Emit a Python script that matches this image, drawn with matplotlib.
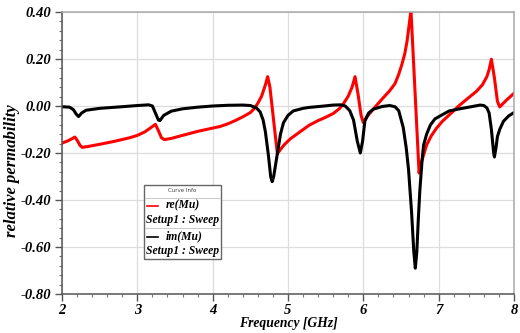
#—————————————————————————头文件——————————————————————————#

import matplotlib
matplotlib.use("Agg")
import matplotlib.pyplot as plt
from matplotlib.lines import Line2D
from matplotlib.patches import Rectangle
from matplotlib.ticker import MultipleLocator

#——————————————————————————数据———————————————————————————#

# re(Mu)
freq_re = [2.00, 2.08, 2.14, 2.17, 2.20, 2.24, 2.27, 2.35, 2.50, 2.70, 2.90, 3.00,
           3.10, 3.18, 3.24, 3.28, 3.32, 3.36, 3.45, 3.60, 3.80, 4.00, 4.10, 4.20,
           4.30, 4.40, 4.50, 4.55, 4.60, 4.65, 4.70, 4.73, 4.76, 4.80, 4.84, 4.86,
           4.90, 4.95, 5.03, 5.15, 5.28, 5.40, 5.50, 5.60, 5.68, 5.73, 5.80, 5.85, 5.89,
           5.93, 5.97, 6.00, 6.05, 6.13, 6.25, 6.35, 6.42, 6.47, 6.51, 6.55, 6.58, 6.61,
           6.63, 6.635, 6.74, 6.77, 6.84, 6.90, 6.97, 7.05, 7.14, 7.28, 7.40, 7.50, 7.58,
           7.64, 7.67, 7.70, 7.74, 7.78, 7.81, 7.90, 8.00]
re_mu = [-0.158, -0.148, -0.138, -0.132, -0.145, -0.168, -0.176, -0.172, -0.163, -0.150, -0.135, -0.125,
         -0.110, -0.092, -0.078, -0.105, -0.135, -0.143, -0.138, -0.125, -0.108, -0.094, -0.087, -0.076,
         -0.062, -0.046, -0.028, -0.012, 0.012, 0.042, 0.090, 0.125, 0.080, -0.035, -0.150, -0.203,
         -0.185, -0.165, -0.140, -0.112, -0.082, -0.062, -0.048, -0.032, -0.012, 0.007, 0.042, 0.080, 0.125,
         0.050, -0.040, -0.071, -0.045, -0.014, 0.030, 0.065, 0.095, 0.135, 0.175, 0.222, 0.275, 0.350,
         0.400, 0.390, -0.285, -0.240, -0.166, -0.128, -0.095, -0.065, -0.038, 0.004, 0.036, 0.062, 0.090,
         0.125, 0.155, 0.199, 0.120, 0.020, -0.004, 0.025, 0.054]

# im(Mu)
freq_im = [2.00, 2.10, 2.15, 2.19, 2.22, 2.26, 2.32, 2.50, 2.80, 3.00, 3.15, 3.20,
           3.24, 3.28, 3.30, 3.35, 3.45, 3.60, 3.80, 4.00, 4.20, 4.40, 4.50, 4.58,
           4.63, 4.67, 4.70, 4.74, 4.77, 4.79, 4.81, 4.84, 4.87, 4.90, 4.94, 5.00,
           5.07, 5.20, 5.28, 5.45, 5.60, 5.70, 5.76, 5.82, 5.87, 5.92, 5.96, 5.99,
           6.02, 6.07, 6.13, 6.25, 6.35, 6.42, 6.47, 6.53, 6.57, 6.60, 6.64, 6.67,
           6.69, 6.71, 6.73, 6.75, 6.78, 6.80, 6.84, 6.89, 6.95, 7.06, 7.14, 7.28,
           7.45, 7.55, 7.60, 7.64, 7.67, 7.70, 7.73, 7.74, 7.76, 7.78, 7.81, 7.86,
           7.93, 8.00]
im_mu = [-0.003, -0.005, -0.015, -0.035, -0.045, -0.030, -0.018, -0.010, -0.003, 0.002, 0.005, 0.000,
         -0.030, -0.060, -0.062, -0.040, -0.022, -0.012, -0.005, 0.000, 0.003, 0.004, 0.002, -0.008,
         -0.025, -0.060, -0.110, -0.210, -0.300, -0.322, -0.300, -0.240, -0.180, -0.120, -0.071, -0.040,
         -0.021, -0.010, -0.006, -0.001, 0.004, 0.005, 0.000, -0.020, -0.060, -0.150, -0.200, -0.150,
         -0.064, -0.030, -0.014, -0.002, 0.002, -0.003, -0.020, -0.092, -0.180, -0.270, -0.450, -0.620,
         -0.690, -0.620, -0.480, -0.360, -0.230, -0.166, -0.120, -0.081, -0.055, -0.035, -0.021, -0.012,
         -0.002, 0.004, 0.002, -0.008, -0.030, -0.100, -0.200, -0.217, -0.180, -0.130, -0.100, -0.065,
         -0.042, -0.028]

x_ticks = [2, 3, 4, 5, 6, 7, 8]
y_ticks = [0.40, 0.20, 0.00, -0.20, -0.40, -0.60, -0.80]

#——————————————————————————绘图———————————————————————————#

W, H = 520, 333
fig = plt.figure(figsize=(W / 100, H / 100), dpi=100)
ax = fig.add_axes([62 / W, 1 - 294 / H, 452 / W, 282 / H])

ax.plot(freq_re, re_mu, color='#ff0000', lw=2.2, solid_joinstyle='round')
ax.plot(freq_im, im_mu, color='black', lw=2.2, solid_joinstyle='round')

ax.set_xlim(2, 8)
ax.set_ylim(-0.8, 0.4)
ax.set_xticks(x_ticks)
ax.set_yticks(y_ticks)
ax.xaxis.set_minor_locator(MultipleLocator(0.2))
ax.yaxis.set_minor_locator(MultipleLocator(0.04))

tfont = dict(family='Liberation Serif', weight='bold', style='italic', size=10.5)
ax.set_xticklabels([str(v) for v in x_ticks], fontdict=tfont)
ax.set_yticklabels(['%.2f' % v for v in y_ticks], fontdict=tfont)
ax.tick_params(which='major', direction='out', length=5, width=1, color='#555555', pad=3)
ax.tick_params(axis='x', which='major', pad=2)
ax.tick_params(which='minor', direction='out', length=2.5, width=0.8, color='#777777')

ax.grid(True, which='major', color='#dddddd', lw=0.9)
ax.set_axisbelow(True)
for s in ['left', 'bottom']:
    ax.spines[s].set_color('#555555')
    ax.spines[s].set_linewidth(1.1)
for s in ['top', 'right']:
    ax.spines[s].set_color('#aaaaaa')
    ax.spines[s].set_linewidth(1.1)

ax.set_xlabel('Frequency [GHz]', fontdict=dict(family='Liberation Serif', weight='bold',
                                              style='italic', size=9.8))
ax.set_ylabel('relative permability', fontdict=dict(family='Liberation Serif', weight='bold',
                                                   style='italic', size=12))
ax.xaxis.set_label_coords(0.5, -0.083)
ax.yaxis.set_label_coords(-0.092, 0.436)

# 图例（手工画）
def px(x, y):
    return (x / W, 1 - y / H)

lfont = dict(family='Liberation Serif', weight='bold', style='italic', size=8.4)
x0, y0 = px(144, 259)
x1, y1 = px(221, 185)
fig.patches.append(Rectangle((x0, y0), x1 - x0, y1 - y0, transform=fig.transFigure,
                             facecolor='white', edgecolor='#666666', lw=1.0, zorder=5))
fig.text(*px(182.5, 191), 'Curve Info', fontsize=4, family='DejaVu Sans', color='#444444',
         ha='center', va='center', zorder=6)
for yy in [197.5, 227.5]:
    fig.add_artist(Line2D([145 / W, 220 / W], [1 - yy / H] * 2, transform=fig.transFigure,
                          color='#cccccc', lw=0.8, zorder=6))
for yy, col, name in [(205.5, '#ff0000', 're(Mu)'), (236.5, 'black', 'im(Mu)')]:
    fig.add_artist(Line2D([147 / W, 158 / W], [1 - yy / H] * 2, transform=fig.transFigure,
                          color=col, lw=1.2, zorder=6))
    fig.text(*px(166, yy), name, fontdict=lfont, ha='left', va='center', zorder=6)
    fig.text(*px(146, yy + 14.5), 'Setup1 : Sweep', fontdict=lfont, ha='left', va='center', zorder=6)

plt.savefig('out.png', dpi=100)
